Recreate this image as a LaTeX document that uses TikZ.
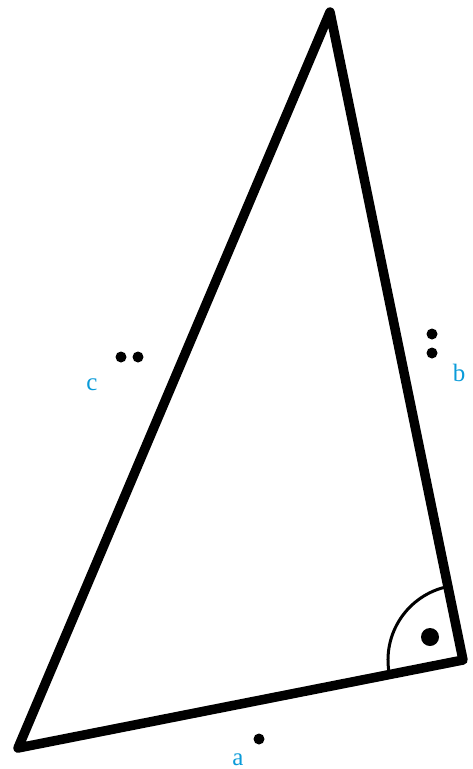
\documentclass[tikz,border=0pt]{standalone}
\usepackage{fontspec}
\setmainfont{Liberation Serif}
\definecolor{lblue}{HTML}{0A9BD9}
\begin{document}
\begin{tikzpicture}[x=1pt,y=-1pt,
  side/.style={line width=9.5pt,line join=round,line cap=round},
  lbl/.style={text=lblue,font=\fontsize{25}{30}\selectfont,inner sep=0pt,anchor=base}]
\useasboundingbox (0,0) rectangle (472,769);
\coordinate (A) at (330,12);
\coordinate (B) at (18,748);
\coordinate (C) at (463,660);
\draw[side] (A) -- (B) -- (C) -- cycle;
\draw[line width=3pt] ([shift={(-101.6:75)}]C) arc[start angle=-101.6,end angle=-191.2,radius=75];
\fill (430,637) circle (9);
\fill (259,739) circle (5.5);
\fill (432,334) circle (5.5);
\fill (432,353) circle (5.5);
\fill (121,357) circle (5.5);
\fill (138,357) circle (5.5);
\node[lbl] (la) at (238,765) {a};
\node[lbl] (lb) at (459,381) {b};
\node[lbl] (lc) at (92,390) {c};
\end{tikzpicture}
\end{document}
